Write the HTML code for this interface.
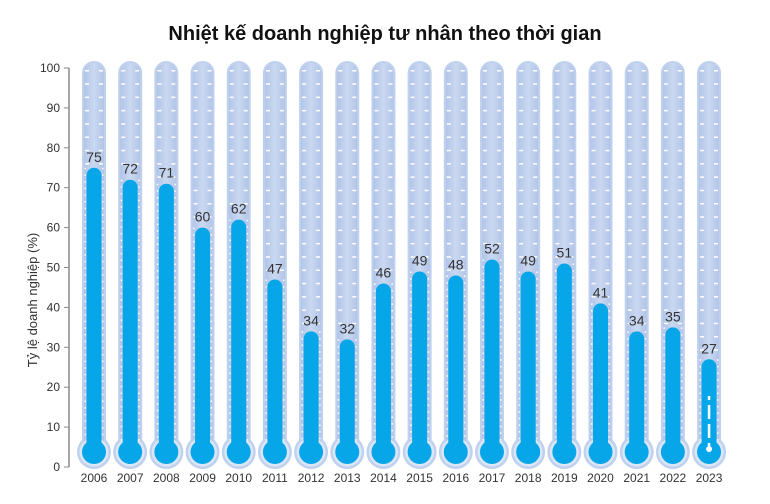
<!DOCTYPE html>
<html><head><meta charset="utf-8"><style>html,body{margin:0;padding:0;background:#fff}</style></head>
<body>
<svg id="s" width="770" height="499" xmlns="http://www.w3.org/2000/svg" font-family="Liberation Sans, DejaVu Sans, sans-serif">
<defs>
<linearGradient id="tg" x1="0" x2="1"><stop offset="0" stop-color="#b2c5e8"/><stop offset="0.5" stop-color="#cad8f0"/><stop offset="1" stop-color="#b2c5e8"/></linearGradient>
</defs>
<text x="385" y="40" text-anchor="middle" font-size="20" font-weight="bold" fill="#111">Nhiệt kế doanh nghiệp tư nhân theo thời gian</text>
<text transform="translate(37,300) rotate(-90)" text-anchor="middle" font-size="13" fill="#333">Tỷ lệ doanh nghiệp (%)</text>
<line x1="69" y1="68" x2="69" y2="467" stroke="#888" stroke-width="1.5"/>
<g id="ax" font-size="12" fill="#333" text-anchor="end"></g>
<g id="th"></g>
</svg>
<script>
var ax=document.getElementById('ax'),th=document.getElementById('th');
var h='';
for(var v=0;v<=100;v+=10){var y=467-v*3.99;h+='<line x1="64" x2="69" y1="'+y+'" y2="'+y+'" stroke="#888"/><text x="60" y="'+(y+4)+'">'+v+'</text>';}
ax.innerHTML=h;
var vals=[75,72,71,60,62,47,34,32,46,49,48,52,49,51,41,34,35,27];
var g='';
vals.forEach(function(v,i){
 var cx=94+i*36.18, yv=467-v*3.99;
 g+='<rect x="'+(cx-12)+'" y="61" width="24" height="390" rx="12" fill="#c0d1ee"/>';
 g+='<circle cx="'+cx+'" cy="452" r="17" fill="#c0d1ee"/>';
 g+='<rect x="'+(cx-10)+'" y="63" width="20" height="388" rx="10" fill="url(#tg)"/>';
 g+='<circle cx="'+cx+'" cy="452" r="14.5" fill="#dce6f6"/>';
 for(var y=70;y<yv-4;y+=13.3){g+='<rect x="'+(cx-9)+'" y="'+y+'" width="4" height="1.5" fill="#fff"/><rect x="'+(cx+5)+'" y="'+y+'" width="4" height="1.5" fill="#fff"/>';}
 for(var y=yv;y<440;y+=6.65){g+='<rect x="'+(cx-9.5)+'" y="'+y+'" width="1.5" height="1.5" fill="#fff"/><rect x="'+(cx+8)+'" y="'+y+'" width="1.5" height="1.5" fill="#fff"/>';}
 g+='<rect x="'+(cx-7.5)+'" y="'+yv+'" width="15" height="'+(452-yv)+'" rx="7.5" fill="#06a6e8"/>';
 g+='<circle cx="'+cx+'" cy="452" r="12" fill="#06a6e8"/>';
 if(i==17){g+='<line x1="'+cx+'" x2="'+cx+'" y1="396" y2="446" stroke="#fff" stroke-width="2.5" stroke-dasharray="4,5,14,5,14,5"/><circle cx="'+cx+'" cy="449" r="3" fill="#fff"/>';}
 g+='<text x="'+cx+'" y="'+(yv-6)+'" text-anchor="middle" font-size="14" fill="#333">'+v+'</text>';
 g+='<text x="'+cx+'" y="482" text-anchor="middle" font-size="12" fill="#333">'+(2006+i)+'</text>';
});
th.innerHTML=g;
</script>
</body></html>
